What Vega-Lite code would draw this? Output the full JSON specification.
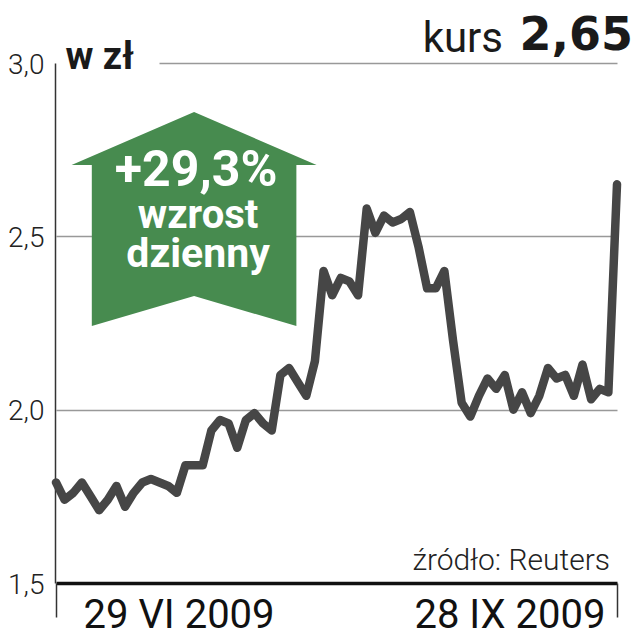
{
  "$schema": "https://vega.github.io/schema/vega-lite/v6.json",
  "autosize": "none",
  "width": 570,
  "height": 520,
  "padding": {"left": 55, "top": 63, "right": 10, "bottom": 57},
  "background": "white",
  "config": {"view": {"stroke": null}},
  "data": {"values": [
    {"date": "2009-06-29", "kurs": 1.79},
    {"date": "2009-06-30", "kurs": 1.74},
    {"date": "2009-07-01", "kurs": 1.76},
    {"date": "2009-07-02", "kurs": 1.79},
    {"date": "2009-07-03", "kurs": 1.75},
    {"date": "2009-07-06", "kurs": 1.71},
    {"date": "2009-07-07", "kurs": 1.74},
    {"date": "2009-07-08", "kurs": 1.78},
    {"date": "2009-07-09", "kurs": 1.72},
    {"date": "2009-07-10", "kurs": 1.76},
    {"date": "2009-07-13", "kurs": 1.79},
    {"date": "2009-07-14", "kurs": 1.80},
    {"date": "2009-07-15", "kurs": 1.79},
    {"date": "2009-07-16", "kurs": 1.78},
    {"date": "2009-07-17", "kurs": 1.76},
    {"date": "2009-07-20", "kurs": 1.84},
    {"date": "2009-07-21", "kurs": 1.84},
    {"date": "2009-07-22", "kurs": 1.84},
    {"date": "2009-07-23", "kurs": 1.94},
    {"date": "2009-07-24", "kurs": 1.97},
    {"date": "2009-07-27", "kurs": 1.96},
    {"date": "2009-07-28", "kurs": 1.89},
    {"date": "2009-07-29", "kurs": 1.97},
    {"date": "2009-07-30", "kurs": 1.99},
    {"date": "2009-07-31", "kurs": 1.96},
    {"date": "2009-08-03", "kurs": 1.94},
    {"date": "2009-08-04", "kurs": 2.10},
    {"date": "2009-08-05", "kurs": 2.12},
    {"date": "2009-08-06", "kurs": 2.08},
    {"date": "2009-08-07", "kurs": 2.04},
    {"date": "2009-08-10", "kurs": 2.14},
    {"date": "2009-08-11", "kurs": 2.40},
    {"date": "2009-08-12", "kurs": 2.33},
    {"date": "2009-08-13", "kurs": 2.38},
    {"date": "2009-08-14", "kurs": 2.37},
    {"date": "2009-08-17", "kurs": 2.33},
    {"date": "2009-08-18", "kurs": 2.58},
    {"date": "2009-08-19", "kurs": 2.51},
    {"date": "2009-08-20", "kurs": 2.56},
    {"date": "2009-08-21", "kurs": 2.54},
    {"date": "2009-08-24", "kurs": 2.55},
    {"date": "2009-08-25", "kurs": 2.57},
    {"date": "2009-08-26", "kurs": 2.47},
    {"date": "2009-08-27", "kurs": 2.35},
    {"date": "2009-08-28", "kurs": 2.35},
    {"date": "2009-08-31", "kurs": 2.40},
    {"date": "2009-09-01", "kurs": 2.20},
    {"date": "2009-09-02", "kurs": 2.02},
    {"date": "2009-09-03", "kurs": 1.98},
    {"date": "2009-09-04", "kurs": 2.04},
    {"date": "2009-09-07", "kurs": 2.09},
    {"date": "2009-09-08", "kurs": 2.06},
    {"date": "2009-09-09", "kurs": 2.10},
    {"date": "2009-09-10", "kurs": 2.00},
    {"date": "2009-09-11", "kurs": 2.05},
    {"date": "2009-09-14", "kurs": 1.99},
    {"date": "2009-09-15", "kurs": 2.04},
    {"date": "2009-09-16", "kurs": 2.12},
    {"date": "2009-09-17", "kurs": 2.09},
    {"date": "2009-09-18", "kurs": 2.10},
    {"date": "2009-09-21", "kurs": 2.04},
    {"date": "2009-09-22", "kurs": 2.13},
    {"date": "2009-09-23", "kurs": 2.03},
    {"date": "2009-09-24", "kurs": 2.06},
    {"date": "2009-09-25", "kurs": 2.05},
    {"date": "2009-09-28", "kurs": 2.65}
  ]},
  "layer": [
    {
      "mark": {"type": "line", "color": "#464646", "strokeWidth": 8.5, "strokeJoin": "round", "strokeCap": "round"},
      "encoding": {
        "x": {
          "field": "date", "type": "ordinal",
          "scale": {"type": "point", "range": [1, 562], "padding": 0},
          "axis": {
            "values": ["2009-06-29", "2009-09-28"],
            "title": null,
            "domain": false,
            "grid": false,
            "ticks": true, "tickSize": 34, "tickWidth": 1.5, "tickColor": "#333",
            "labelExpr": "datum.value == '2009-06-29' ? '29 VI 2009' : '28 IX 2009'",
            "labelAngle": 0,
            "labelAlign": {"condition": {"test": "datum.value == '2009-06-29'", "value": "left"}, "value": "right"},
            "labelOffset": {"condition": {"test": "datum.value == '2009-06-29'", "value": 27}, "value": -12},
            "labelBaseline": "alphabetic",
            "labelPadding": 10,
            "labelFont": "Roboto", "labelFontSize": 40, "labelColor": "#111",
            "labelLimit": 0,
            "labelOverlap": false
          }
        },
        "y": {
          "field": "kurs", "type": "quantitative",
          "scale": {"domain": [1.5, 3], "nice": false, "zero": false},
          "axis": {
            "values": [1.5, 2, 2.5, 3],
            "title": "w zł",
            "titleAngle": 0, "titleAlign": "left", "titleBaseline": "alphabetic",
            "titleX": 10, "titleY": 5,
            "titleFont": "Roboto", "titleFontSize": 38, "titleFontWeight": "bold", "titleColor": "#1a1a1a",
            "domainColor": "#333", "domainWidth": 1.5,
            "ticks": false,
            "labelExpr": "replace(format(datum.value, '.1f'), '.', ',')",
            "labelFont": "Roboto", "labelFontWeight": 300, "labelFontSize": 28, "labelColor": "#222",
            "labelPadding": 11, "labelBaseline": "middle", "labelOffset": 2,
            "labelFlush": false, "labelOverlap": false,
            "grid": true,
            "gridColor": {"condition": {"test": "datum.value == 1.5", "value": "#111"}, "value": "#999"},
            "gridWidth": {"condition": {"test": "datum.value == 1.5", "value": 3.5}, "value": 1.5},
            "gridDash": {"condition": {"test": "datum.value == 3", "value": [0, 103, 600, 0]}, "value": []}
          }
        }
      }
    },
    {
      "data": {"values": [{}]},
      "mark": {"type": "point", "shape": "M0,-0.873L1,-0.441L0.835,-0.441L0.835,0.873L0,0.629L-0.835,0.873L-0.835,-0.441L-1,-0.441Z", "size": 60025, "filled": true, "color": "#478b4f", "opacity": 1, "strokeWidth": 0},
      "encoding": {
        "x": {"datum": "2009-07-21", "type": "ordinal"},
        "y": {"datum": 2.55, "type": "quantitative"}
      }
    },
    {
      "data": {"values": [{}]},
      "mark": {"type": "text", "text": "+29,3%", "font": "Roboto", "fontSize": 50, "fontWeight": "bold", "color": "white", "align": "center", "baseline": "alphabetic", "dx": 2, "dy": -33},
      "encoding": {
        "x": {"datum": "2009-07-21", "type": "ordinal"},
        "y": {"datum": 2.55, "type": "quantitative"}
      }
    },
    {
      "data": {"values": [{}]},
      "mark": {"type": "text", "text": "wzrost", "font": "Roboto", "fontSize": 40, "fontWeight": "bold", "color": "white", "align": "center", "baseline": "alphabetic", "dx": 4, "dy": 9},
      "encoding": {
        "x": {"datum": "2009-07-21", "type": "ordinal"},
        "y": {"datum": 2.55, "type": "quantitative"}
      }
    },
    {
      "data": {"values": [{}]},
      "mark": {"type": "text", "text": "dzienny", "font": "Roboto", "fontSize": 41, "fontWeight": "bold", "color": "white", "align": "center", "baseline": "alphabetic", "dx": 4, "dy": 48},
      "encoding": {
        "x": {"datum": "2009-07-21", "type": "ordinal"},
        "y": {"datum": 2.55, "type": "quantitative"}
      }
    },
    {
      "data": {"values": [{}]},
      "mark": {"type": "text", "text": "kurs", "font": "Roboto", "fontSize": 42, "fontWeight": "normal", "color": "#1a1a1a", "align": "right", "baseline": "alphabetic", "dx": -114, "dy": -11},
      "encoding": {
        "x": {"datum": "2009-09-28", "type": "ordinal"},
        "y": {"datum": 3, "type": "quantitative"}
      }
    },
    {
      "data": {"values": [{}]},
      "mark": {"type": "text", "text": "2,65", "font": "DejaVu Sans", "fontSize": 46, "fontWeight": "bold", "color": "#1a1a1a", "align": "right", "baseline": "alphabetic", "dx": 16, "dy": -13},
      "encoding": {
        "x": {"datum": "2009-09-28", "type": "ordinal"},
        "y": {"datum": 3, "type": "quantitative"}
      }
    },
    {
      "data": {"values": [{}]},
      "mark": {"type": "text", "text": "źródło: Reuters", "font": "Roboto", "fontSize": 30, "fontWeight": 300, "color": "#222", "align": "right", "baseline": "alphabetic", "dx": -7, "dy": -13},
      "encoding": {
        "x": {"datum": "2009-09-28", "type": "ordinal"},
        "y": {"datum": 1.5, "type": "quantitative"}
      }
    }
  ]
}
